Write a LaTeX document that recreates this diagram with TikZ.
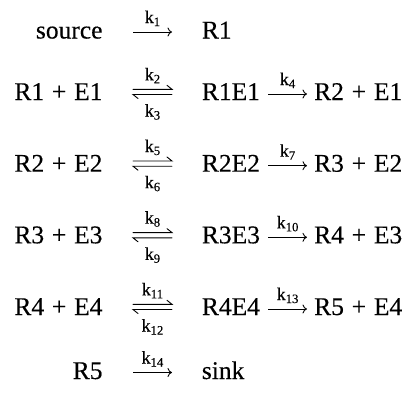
\documentclass[tikz,border=0pt]{standalone}
\usepackage{fontspec}
\setmainfont{Liberation Serif}
\newfontfamily\tms{Liberation Serif}[FakeBold=0.3]
\usetikzlibrary{arrows.meta}
\newcommand{\klab}[1]{k\raisebox{-3pt}{\fontsize{12.75}{14}\selectfont #1}}
\newcommand{\pls}{\hspace{7.8pt}+\hspace{7.8pt}}
\begin{document}
\begin{tikzpicture}[x=1pt,y=-1pt,
  txt/.style={inner sep=0pt, font=\tms\fontsize{25.5}{30}\selectfont},
  lab/.style={inner sep=0pt, font=\tms\fontsize{17.85}{20}\selectfont, anchor=base},
  rarr/.style={line width=0.9pt, -{To[length=4.5pt,width=9pt]}},
  hp/.style={line width=0.9pt, line cap=round}]
\useasboundingbox (0,0) rectangle (407,394);
% row 1
\node[txt, anchor=base east] (src) at (102.7,38.5) {source};
\node[txt, anchor=base west] (r1) at (201.7,38.5) {R1};
\draw[rarr] ([xshift=30.3pt,yshift=6.5pt]src.base east) --
  node[lab, yshift=9pt] (k1) {\klab{1}} ([xshift=-29.7pt,yshift=6.5pt]r1.base west);
% rows 2-5
\foreach \i/\y/\a/\b/\c in {1/100/2/3/4, 2/171.7/5/6/7, 3/243.3/8/9/10, 4/315/11/12/13}{
  \pgfmathtruncatemacro\j{\i+1}
  \node[txt, anchor=base east] (L\i) at (102.7,\y) {R\i\pls E\i};
  \node[txt, anchor=base west] (M\i) at (201.7,\y) {R\i E\i};
  \node[txt, anchor=base west] (P\i) at (314,\y) {R\j\pls E\i};
  \draw[hp] ([xshift=30.3pt,yshift=10.7pt]L\i.base east) --
    node[lab, yshift=9pt] (ka\i) {\klab{\a}}
    ([xshift=-29.7pt,yshift=10.7pt]M\i.base west) -- ++(-5,-4);
  \draw[hp] ([xshift=-29.7pt,yshift=5.5pt]M\i.base west) --
    node[lab, yshift=-22pt] (kb\i) {\klab{\b}}
    ([xshift=30.3pt,yshift=5.5pt]L\i.base east) -- ++(5,4);
  \draw[rarr] ([xshift=8pt,yshift=6pt]M\i.base east) --
    node[lab, yshift=9pt] (kc\i) {\klab{\c}} ([xshift=-7pt,yshift=6pt]P\i.base west);
}
% row 6
\node[txt, anchor=base east] (r5) at (102.7,379) {R5};
\node[txt, anchor=base west] (snk) at (201.7,379) {sink};
\draw[rarr] ([xshift=30.3pt,yshift=6.5pt]r5.base east) --
  node[lab, yshift=9pt] (k14) {\klab{14}} ([xshift=-29.7pt,yshift=6.5pt]snk.base west);
\end{tikzpicture}
\end{document}
